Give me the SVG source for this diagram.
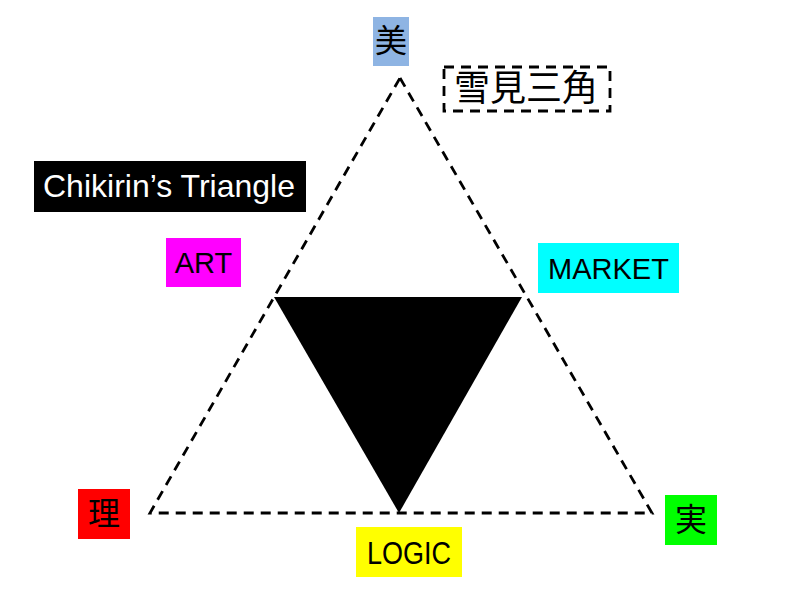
<svg xmlns="http://www.w3.org/2000/svg" width="800" height="600" viewBox="0 0 800 600">
<style>
.lbl{font-family:"Liberation Sans","Noto Sans CJK JP",sans-serif;font-size:29px;fill:#000;text-anchor:middle;dominant-baseline:central}
.cjk{font-size:32px}
.dash{fill:none;stroke:#000;stroke-width:2.8;stroke-dasharray:10,7}
</style>
<rect width="800" height="600" fill="#fff"/>
<g id="connectors">
<polygon class="dash" points="400,78 652,513 150,513"/>
<polygon points="274,297 522,297 399,513" fill="#000"/>
</g>
<g id="bi"><rect x="373" y="17" width="36" height="49" fill="#8eb4e3"/><text class="lbl cjk" x="391" y="41">美</text></g>
<g id="title-jp"><rect class="dash" x="444" y="67" width="166" height="44"/><text class="lbl" x="526" y="88" style="font-size:36px">雪見三角</text></g>
<g id="title-en"><rect x="34" y="161" width="272" height="51" fill="#000"/><text class="lbl" x="169" y="186" style="fill:#fff;font-size:32px" textLength="252" lengthAdjust="spacingAndGlyphs">Chikirin’s Triangle</text></g>
<g id="art"><rect x="166" y="238" width="75" height="49" fill="#ff00ff"/><text class="lbl" x="203.5" y="263">ART</text></g>
<g id="market"><rect x="538" y="243" width="141" height="50" fill="#00ffff"/><text class="lbl" x="608.5" y="269">MARKET</text></g>
<g id="ri"><rect x="78" y="489" width="52" height="50" fill="#ff0000"/><text class="lbl cjk" x="104" y="514">理</text></g>
<g id="jitsu"><rect x="665" y="495" width="52" height="50" fill="#00ff00"/><text class="lbl cjk" x="691" y="520">実</text></g>
<g id="logic"><rect x="356" y="527" width="106" height="50" fill="#ffff00"/><text class="lbl" x="409" y="553" style="font-size:32px" textLength="84" lengthAdjust="spacingAndGlyphs">LOGIC</text></g>
</svg>
